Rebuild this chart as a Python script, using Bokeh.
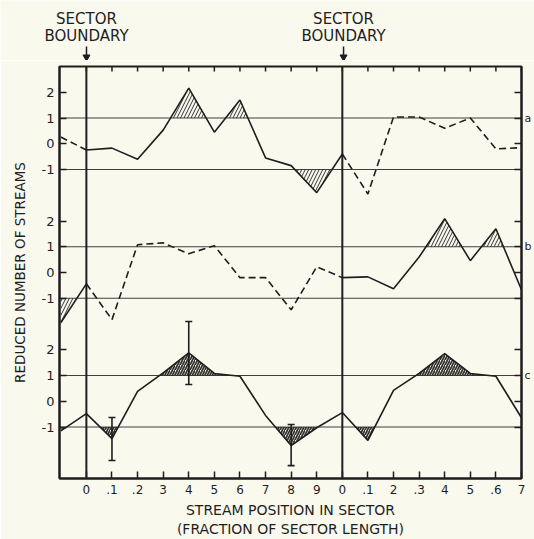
import numpy as np
from bokeh.plotting import figure
from bokeh.layouts import column
from bokeh.models import Range1d, LinearAxis, FixedTicker, Span
from bokeh.core.properties import value
from bokeh.embed import file_html
from bokeh.resources import INLINE

# ---------------- data ----------------
positions = [-0.1, 0.0, 0.1, 0.2, 0.3, 0.4, 0.5, 0.6, 0.7, 0.8, 0.9,
             1.0, 1.1, 1.2, 1.3, 1.4, 1.5, 1.6, 1.7]

# reduced number of streams, one value per position
panel_a = [0.26, -0.24, -0.17, -0.6, 0.53, 2.16, 0.45, 1.7, -0.55, -0.85,
           -1.9, -0.4, -1.95, 1.04, 1.04, 0.6, 1.0, -0.2, -0.15]
panel_b = [-1.95, -0.44, -1.83, 1.08, 1.15, 0.73, 1.04, -0.2, -0.2, -1.45,
           0.22, -0.2, -0.17, -0.63, 0.6, 2.09, 0.46, 1.7, -0.67]
panel_c = [-1.15, -0.48, -1.45, 0.38, 1.1, 1.88, 1.08, 0.97, -0.55, -1.72,
           -1.03, -0.44, -1.52, 0.42, 1.08, 1.85, 1.08, 0.97, -0.64]

# error bars on panel c
err_pos = [0.1, 0.4, 0.8]
err_hi = [-0.63, 3.1, -0.9]
err_lo = [-2.3, 0.65, -2.5]

boundaries = [0.0, 1.0]
boundary_lines = ["SECTOR", "BOUNDARY"]
panel_names = ["a", "b", "c"]
y_tick_values = [2, 1, 0, -1]
y_tick_labels = ["2", "1", "0", "-1"]
x_tick_pos = [0.0, 0.1, 0.2, 0.3, 0.4, 0.5, 0.6, 0.7, 0.8, 0.9,
              1.0, 1.1, 1.2, 1.3, 1.4, 1.5, 1.6, 1.7]
x_tick_labels = ["0", ".1", ".2", "3", "4", "5", "6", "7", "8", "9",
                 "0", ".1", "2", ".3", "4", "5", ".6", "7"]
y_title = "REDUCED NUMBER OF STREAMS"
x_title = "STREAM POSITION IN SECTOR\n(FRACTION OF SECTOR LENGTH)"

# ---------------- styling / layout ----------------
BG = "#FAF9EE"
INK = "#1e1e1e"
FONT = "DejaVu Sans"
offsets = {"a": 10, "b": 5, "c": 0}

W = 534
HEAD_H = 60
MAIN_H = 479
B_LEFT, B_RIGHT, B_TOP, B_BOTTOM = 59, 11, 6, 61
X0, X1 = -0.105, 1.7
Y0, Y1 = -3, 13
px_per_x = (W - B_LEFT - B_RIGHT) / (X1 - X0)
px_per_y = (MAIN_H - B_TOP - B_BOTTOM) / (Y1 - Y0)

p = figure(width=W, height=MAIN_H, x_range=Range1d(X0, X1), y_range=Range1d(Y0, Y1),
           output_backend="svg", toolbar_location=None, title_location=None,
           x_axis_location=None, y_axis_location=None,
           min_border_left=B_LEFT, min_border_right=B_RIGHT,
           min_border_top=B_TOP, min_border_bottom=B_BOTTOM,
           background_fill_color=BG, border_fill_color=BG)
p.frame_align = False
p.grid.visible = False
p.outline_line_color = INK
p.outline_line_width = 2


def style_axis(ax, tick_in, size="12px", standoff=6):
    ax.major_tick_in = tick_in
    ax.major_tick_out = 0
    ax.minor_tick_in = 0
    ax.minor_tick_out = 0
    ax.axis_line_color = INK
    ax.axis_line_width = 2
    ax.major_tick_line_color = INK
    ax.major_tick_line_width = 1.5
    ax.major_label_text_font = FONT
    ax.major_label_text_font_size = size
    ax.major_label_text_color = INK
    ax.major_label_standoff = standoff
    ax.axis_label_text_font = FONT
    ax.axis_label_text_font_style = "normal"
    ax.axis_label_text_color = INK


# bottom axis with the x title
xb = LinearAxis(ticker=FixedTicker(ticks=x_tick_pos),
                major_label_overrides=dict(zip(x_tick_pos, x_tick_labels)),
                axis_label=x_title)
style_axis(xb, 7, size="12px", standoff=6)
xb.axis_label_text_font_size = "14px"
xb.axis_label_standoff = 5
xb.axis_label_text_align = "center"
p.add_layout(xb, "below")

# left axis with the y title
y_ticks, y_over, r_over = [], {}, {}
for name in panel_names:
    for v, lab in zip(y_tick_values, y_tick_labels):
        t = v + offsets[name]
        y_ticks.append(t)
        y_over[t] = lab
        r_over[t] = name if v == 1 else ""
yl = LinearAxis(ticker=FixedTicker(ticks=y_ticks), major_label_overrides=y_over,
                axis_label=y_title)
style_axis(yl, 7, size="13px", standoff=5)
yl.axis_label_text_font_size = "13.5px"
yl.axis_label_standoff = 11
p.add_layout(yl, "left")

# right axis: panel letters
yr = LinearAxis(ticker=FixedTicker(ticks=y_ticks), major_label_overrides=r_over)
style_axis(yr, 7, size="11px", standoff=3)
p.add_layout(yr, "right")

# top inward ticks (inside the frame)
tick_len = 5 / px_per_y
p.segment(x0=x_tick_pos, y0=[Y1] * len(x_tick_pos), x1=x_tick_pos,
          y1=[Y1 - tick_len] * len(x_tick_pos), line_color=INK, line_width=1.5)

# reference lines at +1 and -1 in each panel
for name in panel_names:
    for lev in (1, -1):
        p.add_layout(Span(location=lev + offsets[name], dimension="width",
                          line_color=INK, line_width=1, line_alpha=0.85))

# sector boundaries
for b in boundaries:
    p.add_layout(Span(location=b, dimension="height", line_color=INK, line_width=2))


def refine(xs, ys, level, sign):
    rx, ry = [], []
    for i in range(len(xs)):
        if i > 0:
            y0, y1 = ys[i - 1], ys[i]
            if (y0 - level) * (y1 - level) < 0:
                t = (level - y0) / (y1 - y0)
                rx.append(xs[i - 1] + t * (xs[i] - xs[i - 1]))
                ry.append(level)
        rx.append(xs[i])
        ry.append(ys[i])
    ry = np.array(ry)
    clipped = np.maximum(ry, level) if sign > 0 else np.minimum(ry, level)
    return rx, clipped


def draw_piece(xs, ys, off, dashed, hatch, hscale=7, hweight=1.0):
    yy = [v + off for v in ys]
    if hatch:
        for lev, sign in ((1 + off, 1), (-1 + off, -1)):
            rx, cy = refine(xs, yy, lev, sign)
            p.varea(x=rx, y1=[lev] * len(rx), y2=cy, fill_color=None,
                    hatch_pattern="/", hatch_color=INK, hatch_scale=hscale,
                    hatch_weight=hweight, hatch_alpha=0.9)
    p.line(xs, yy, line_color=INK, line_width=1.6,
           line_dash="7 4" if dashed else "solid")


def in_sector(x):
    return boundaries[0] - 1e-9 <= x <= boundaries[1] + 1e-9


ia = [i for i, x in enumerate(positions) if in_sector(x)]
s0, s1 = ia[0], ia[-1]

# panel a: solid inside the sector, dashed outside
draw_piece(positions[:s0 + 1], panel_a[:s0 + 1], offsets["a"], True, False)
draw_piece(positions[s0:s1 + 1], panel_a[s0:s1 + 1], offsets["a"], False, True)
draw_piece(positions[s1:], panel_a[s1:], offsets["a"], True, False)

# panel b: dashed inside the sector, solid outside
draw_piece(positions[:s0 + 1], panel_b[:s0 + 1], offsets["b"], False, True)
draw_piece(positions[s0:s1 + 1], panel_b[s0:s1 + 1], offsets["b"], True, False)
draw_piece(positions[s1:], panel_b[s1:], offsets["b"], False, True)

# panel c: solid all along
draw_piece(positions, panel_c, offsets["c"], False, True, hscale=5, hweight=1.7)

# error bars
p.segment(x0=err_pos, y0=err_lo, x1=err_pos, y1=err_hi, line_color=INK, line_width=1.6)
p.scatter(x=err_pos + err_pos, y=err_lo + err_hi, marker="dash", size=7,
          line_color=INK, line_width=1.6)

# ---------------- header: sector boundary labels and arrows ----------------
# same x scale as the main frame, extended to the full width of the page
hx0 = X0 - B_LEFT / px_per_x
hx1 = X1 + B_RIGHT / px_per_x
h = figure(width=W, height=HEAD_H, x_range=Range1d(hx0, hx1), y_range=Range1d(HEAD_H, 0),
           output_backend="svg", toolbar_location=None, title_location=None,
           x_axis_location=None, y_axis_location=None,
           min_border_left=0, min_border_right=0, min_border_top=0, min_border_bottom=0,
           background_fill_color=BG, border_fill_color=BG)
h.frame_align = False
h.grid.visible = False
h.outline_line_color = None

line_y = [18.5, 35]
for txt, yy in zip(boundary_lines, line_y):
    h.text(x=boundaries, y=[yy] * len(boundaries), text=[txt] * len(boundaries),
           text_font=value(FONT), text_font_size="15px", text_align="center",
           text_baseline="middle", text_color=INK)
h.segment(x0=boundaries, y0=[46] * 2, x1=boundaries, y1=[56] * 2,
          line_color=INK, line_width=1.5)
h.scatter(x=boundaries, y=[56.5] * 2, marker="inverted_triangle", size=7,
          fill_color=INK, line_color=INK)

layout = column(h, p, spacing=0)
open("out.html", "w").write(file_html(layout, INLINE))
